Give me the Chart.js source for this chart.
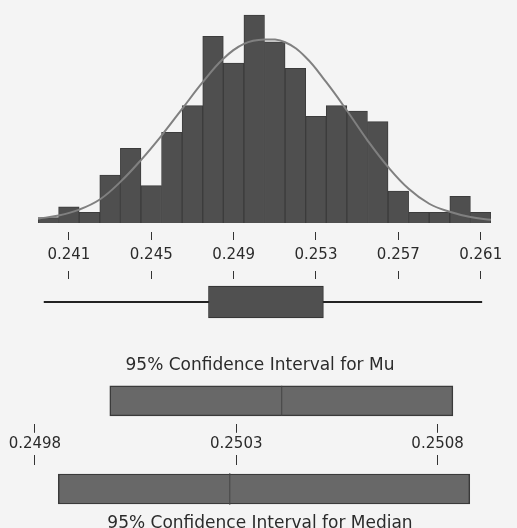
<!DOCTYPE html>
<html>
<head>
<meta charset="utf-8">
<script src="https://cdn.jsdelivr.net/npm/chart.js@4.4.1/dist/chart.umd.min.js"></script>
<style>
  body { margin: 0; background: #f4f4f4; }
  #wrap { position: relative; width: 517px; height: 528px; overflow: hidden; background: #f4f4f4; }
  #wrap canvas { position: absolute; left: 0; }
</style>
</head>
<body>
<div id="wrap">
  <canvas id="histChart" width="517" height="270" style="top:0"></canvas>
  <canvas id="boxChart" width="517" height="56" style="top:271px"></canvas>
  <canvas id="muChart" width="517" height="105" style="top:351px"></canvas>
  <canvas id="medChart" width="517" height="85" style="top:455px"></canvas>
</div>
<script>
// histogram bins (centre of each 0.001 wide bin) and counts
const binCenters = [0.240, 0.241, 0.242, 0.243, 0.244, 0.245, 0.246, 0.247, 0.248, 0.249, 0.250,
                    0.251, 0.252, 0.253, 0.254, 0.255, 0.256, 0.257, 0.258, 0.259, 0.260, 0.261];
const counts = [1, 3, 2, 9, 14, 7, 17, 22, 35, 30, 39, 34, 29, 20, 22, 21, 19, 6, 2, 2, 5, 2];

const curveX = [0.2395, 0.2405, 0.2415, 0.2425, 0.2435, 0.2445, 0.2455, 0.2465, 0.2475, 0.2485, 0.2495, 0.2505,
                0.2515, 0.2525, 0.2535, 0.2545, 0.2555, 0.2565, 0.2575, 0.2585, 0.2595, 0.2605, 0.2615];
const curveY = [0.8, 1.4, 2.5, 4.4, 7.7, 11.8, 16.4, 21.4, 26.4, 30.8, 33.6, 34.4,
                33.9, 31.1, 26.4, 21.1, 15.5, 10.5, 6.4, 3.6, 2.1, 1.1, 0.6];
const histTicks = [0.241, 0.245, 0.249, 0.253, 0.257, 0.261];

// boxplot: whisker ends and quartiles
const whiskers = [0.23978, 0.26107];
const quartiles = [0.24778, 0.25336];

// confidence intervals
const ciTicks = [0.2498, 0.2503, 0.2508];
const muCI = [0.249986, 0.250838];
const meanValue = 0.250413;
const medianCI = [0.249858, 0.25088];
const medianValue = 0.250284;

const FONT = "'DejaVu Sans', Verdana, sans-serif";
const INK = '#2b2b2b';
Chart.defaults.font.family = FONT;
Chart.defaults.color = INK;
Chart.defaults.animation = false;
Chart.defaults.plugins.legend.display = false;
Chart.defaults.plugins.tooltip.enabled = false;

function fixedTicks(vals) {
    return function (scale) {
        scale.ticks = vals.map(v => ({ value: v }));
    };
}

function axisX(min, max, vals, position, showLabels, tickLen, digits, pad) {
    return {
        type: 'linear', position: position, min: min, max: max, offset: false,
        afterBuildTicks: fixedTicks(vals),
        grid: { offset: false, drawOnChartArea: false, drawTicks: true, tickLength: tickLen, tickColor: '#333', tickWidth: 1 },
        border: { display: false },
        ticks: { display: showLabels, autoSkip: false, maxRotation: 0, padding: pad,
                 font: { size: 15 }, color: INK, callback: v => Number(v).toFixed(digits) }
    };
}

const hiddenY = (min, max) => ({ type: 'linear', display: false, min: min, max: max, offset: false });

// Histogram with normal curve
new Chart(document.getElementById('histChart'), {
    type: 'bar',
    data: {
        datasets: [
            {
                type: 'line', order: 0,
                data: curveX.map((x, i) => ({ x: x, y: curveY[i] })),
                borderColor: '#808080', borderWidth: 2, pointRadius: 0, tension: 0.4, fill: false
            },
            {
                type: 'bar', order: 1,
                data: binCenters.map((x, i) => ({ x: x, y: counts[i] })),
                backgroundColor: '#4f4f4f', borderColor: '#3c3c3c', borderWidth: 1,
                barPercentage: 1, categoryPercentage: 1
            }
        ]
    },
    options: {
        responsive: false,
        layout: { padding: { left: 38, right: 26, top: 14, bottom: 0 } },
        scales: {
            x: axisX(0.2395, 0.2615, histTicks, 'bottom', true, 8, 3, 6),
            y: hiddenY(-1.7, 39.2)
        }
    }
});

// Boxplot
new Chart(document.getElementById('boxChart'), {
    type: 'bar',
    data: {
        datasets: [
            {
                type: 'bar', order: 0, indexAxis: 'y',
                data: [{ x: quartiles, y: 0 }],
                backgroundColor: '#505050', borderColor: '#2e2e2e', borderWidth: 1,
                borderSkipped: false, barThickness: 32
            },
            {
                type: 'line', order: 1,
                data: [{ x: whiskers[0], y: 0 }, { x: whiskers[1], y: 0 }],
                borderColor: '#222', borderWidth: 2, pointRadius: 0
            }
        ]
    },
    options: {
        responsive: false,
        layout: { padding: { left: 38, right: 26, top: 0, bottom: 2 } },
        scales: {
            x: axisX(0.2395, 0.2615, histTicks, 'top', false, 8, 3, 0),
            y: hiddenY(-1, 1)
        }
    }
});

function ciChart(id, ci, centre, titleText, axisPos, titlePos, tickLen, pad, titlePad) {
    return new Chart(document.getElementById(id), {
        type: 'bar',
        data: {
            datasets: [
                {
                    type: 'line', order: 0,
                    data: [{ x: centre, y: -0.66 }, { x: centre, y: 0.66 }],
                    borderColor: '#454545', borderWidth: 1, pointRadius: 0
                },
                {
                    type: 'bar', order: 1, indexAxis: 'y',
                    data: [{ x: ci, y: 0 }],
                    backgroundColor: '#686868', borderColor: '#3a3a3a', borderWidth: 1.5,
                    borderSkipped: false, barThickness: 30
                }
            ]
        },
        options: {
            responsive: false,
            layout: { padding: { left: 20, right: 17, top: 0, bottom: 0 } },
            plugins: {
                title: { display: true, text: titleText, position: titlePos, color: INK,
                         font: { size: 17, weight: 'normal' }, padding: titlePad }
            },
            scales: {
                x: axisX(0.249763, 0.250955, ciTicks, axisPos, axisPos === 'bottom', tickLen, 4, pad),
                y: hiddenY(-1, 1)
            }
        }
    });
}

ciChart('muChart', muCI, meanValue, '95% Confidence Interval for Mu', 'bottom', 'top', 9, 2.6,
        { top: 4.8, bottom: 1.8 });
ciChart('medChart', medianCI, medianValue, '95% Confidence Interval for Median', 'top', 'bottom', 10, 0,
        { top: 0, bottom: 6.6 });
</script>
</body>
</html>
